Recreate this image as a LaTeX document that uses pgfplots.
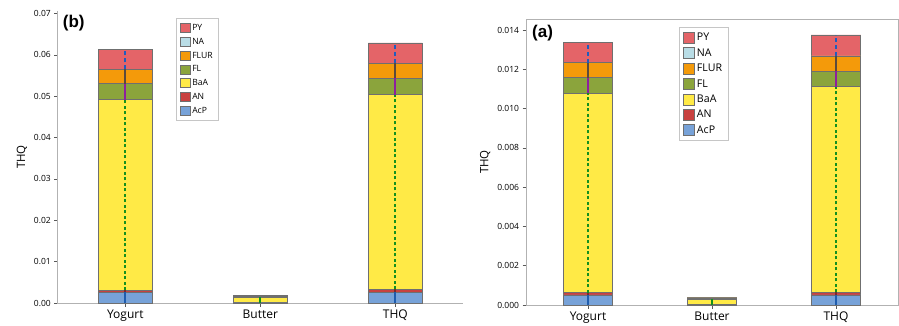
\documentclass[border=0pt]{standalone}
\usepackage{fontspec}
\setmainfont{Open Sans}
\newfontfamily\headfont{Liberation Sans}
\usepackage{pgfplots}
\pgfplotsset{compat=1.18}
\definecolor{cPY}{HTML}{E46468}
\definecolor{cNA}{HTML}{B9DDE6}
\definecolor{cFLUR}{HTML}{F49A0A}
\definecolor{cFL}{HTML}{8BA43C}
\definecolor{cBaA}{HTML}{FFEA46}
\definecolor{cAN}{HTML}{C8413F}
\definecolor{cAcP}{HTML}{77A2D8}
\definecolor{lAcP}{HTML}{1F5DAE}
\definecolor{lAN}{HTML}{7A2A2A}
\definecolor{lBaA}{HTML}{14901E}
\definecolor{lFL}{HTML}{8E1F9E}
\definecolor{lFLUR}{HTML}{5C4B3C}
\definecolor{lPY}{HTML}{1F5DBE}
\definecolor{bord}{HTML}{6F6F6F}
\pgfplotsset{
  thqbase/.style={
    scale only axis, xmin=-0.5, xmax=2.5, ymin=0,
    xtick={0,1,2}, xticklabels={Yogurt,Butter,THQ},
    tick align=outside, major tick length=3.5pt, tick pos=left,
    tick style={gray!70!black, line width=0.6pt},
    axis line style={gray!60, line width=0.8pt},
    scaled y ticks=false,
    /pgf/number format/assume math mode=true,
    yticklabel style={font=\fontsize{8.5}{10}\selectfont},
    xticklabel style={font=\fontsize{12}{14}\selectfont},
    ylabel style={font=\fontsize{11.5}{13}\selectfont},
    ylabel={THQ},
    ybar, bar width=0.4, bar shift=0pt,
  },
  segbar/.style={fill=#1, draw=bord, line width=0.7pt},
  seg/.style={sharp plot, forget plot, line width=1.8pt, #1},
}
\begin{document}
\begin{tikzpicture}
\useasboundingbox (0,0) rectangle (899pt,325pt);
% ---------------- left panel (b): bar tops = cumulative stack heights
\begin{axis}[thqbase, width=405pt, height=292pt, at={(57.8pt,22pt)}, anchor=south west,
  ymax=0.0706, ytick={0,0.01,0.02,0.03,0.04,0.05,0.06,0.07},
  yticklabel style={/pgf/number format/.cd, fixed, fixed zerofill, precision=2},
  axis line style={draw=none}, clip=false,
  legend image code/.code={\draw[#1] (0pt,-4.6pt) rectangle (9.5pt,4.6pt);},
  legend style={at={(0.291,0.976)}, anchor=north west, font=\fontsize{8.6}{9.5}\selectfont,
    draw=gray!45, line width=0.8pt, inner sep=4pt, row sep=2.1pt, cells={anchor=west}},
]
\draw[gray!60, line width=0.8pt] (rel axis cs:0,1) -- (rel axis cs:0,0) -- (rel axis cs:1,0);
\addplot[segbar=cPY]   coordinates {(0,0.0613) (1,0.00191) (2,0.0629)};
\addplot[segbar=cNA]   coordinates {(0,0.0565) (1,0.00176) (2,0.0580)};
\addplot[segbar=cFLUR] coordinates {(0,0.0565) (1,0.00176) (2,0.0580)};
\addplot[segbar=cFL]   coordinates {(0,0.0530) (1,0.00156) (2,0.0544)};
\addplot[segbar=cBaA]  coordinates {(0,0.0492) (1,0.00136) (2,0.0504)};
\addplot[segbar=cAN]   coordinates {(0,0.0031) (1,0.00004) (2,0.0033)};
\addplot[segbar=cAcP]  coordinates {(0,0.0026) (1,0.00003) (2,0.0026)};
\legend{PY,NA,FLUR,FL,BaA,AN,AcP}
\addplot[seg={lAcP}] coordinates {(0,0) (0,0.0026)};
\addplot[seg={lAN}] coordinates {(0,0.0026) (0,0.0031)};
\addplot[seg={lBaA, dash pattern=on 3pt off 2.5pt}] coordinates {(0,0.0031) (0,0.0492)};
\addplot[seg={lFL}] coordinates {(0,0.0492) (0,0.0530)};
\addplot[seg={lFLUR}] coordinates {(0,0.0530) (0,0.0565)};
\addplot[seg={lPY, dash pattern=on 4pt off 3pt}] coordinates {(0,0.0565) (0,0.0613)};
\addplot[seg={lBaA}] coordinates {(1,0.00005) (1,0.00136)};
\addplot[seg={lAcP}] coordinates {(2,0) (2,0.0026)};
\addplot[seg={lAN}] coordinates {(2,0.0026) (2,0.0033)};
\addplot[seg={lBaA, dash pattern=on 3pt off 2.5pt}] coordinates {(2,0.0033) (2,0.0504)};
\addplot[seg={lFL}] coordinates {(2,0.0504) (2,0.0544)};
\addplot[seg={lFLUR}] coordinates {(2,0.0544) (2,0.0580)};
\addplot[seg={lPY, dash pattern=on 4pt off 3pt}] coordinates {(2,0.0580) (2,0.0629)};
\node[anchor=north west, inner sep=0pt, font=\headfont\bfseries\fontsize{17}{18}\selectfont] at (rel axis cs:0.012,0.988) {(b)};
\end{axis}
% ---------------- right panel (a)
\begin{axis}[thqbase, width=372pt, height=286pt, at={(526pt,20pt)}, anchor=south west,
  ymax=0.01456, ytick={0,0.002,0.004,0.006,0.008,0.010,0.012,0.014},
  yticklabel style={/pgf/number format/.cd, fixed, fixed zerofill, precision=3},
  legend image code/.code={\draw[#1] (0pt,-5.5pt) rectangle (11pt,5.5pt);},
  legend style={at={(0.411,0.972)}, anchor=north west, font=\fontsize{10.6}{11.5}\selectfont,
    draw=gray!45, line width=0.8pt, inner sep=4pt, row sep=2.3pt, cells={anchor=west}},
]
\addplot[segbar=cPY]   coordinates {(0,0.01335) (1,0.00039) (2,0.01375)};
\addplot[segbar=cNA]   coordinates {(0,0.01234) (1,0.00036) (2,0.01268)};
\addplot[segbar=cFLUR] coordinates {(0,0.01234) (1,0.00036) (2,0.01268)};
\addplot[segbar=cFL]   coordinates {(0,0.01157) (1,0.00033) (2,0.0119)};
\addplot[segbar=cBaA]  coordinates {(0,0.01079) (1,0.0003) (2,0.01111)};
\addplot[segbar=cAN]   coordinates {(0,0.00063) (1,0.00002) (2,0.00064)};
\addplot[segbar=cAcP]  coordinates {(0,0.00051) (1,0.00001) (2,0.00051)};
\legend{PY,NA,FLUR,FL,BaA,AN,AcP}
\addplot[seg={lAcP}] coordinates {(0,0) (0,0.00051)};
\addplot[seg={lAN}] coordinates {(0,0.00051) (0,0.00063)};
\addplot[seg={lBaA, dash pattern=on 3pt off 2.5pt}] coordinates {(0,0.00063) (0,0.01079)};
\addplot[seg={lFL}] coordinates {(0,0.01079) (0,0.01157)};
\addplot[seg={lFLUR}] coordinates {(0,0.01157) (0,0.01234)};
\addplot[seg={lPY, dash pattern=on 4pt off 3pt}] coordinates {(0,0.01234) (0,0.01335)};
\addplot[seg={lBaA}] coordinates {(1,0.00002) (1,0.0003)};
\addplot[seg={lAcP}] coordinates {(2,0) (2,0.00051)};
\addplot[seg={lAN}] coordinates {(2,0.00051) (2,0.00064)};
\addplot[seg={lBaA, dash pattern=on 3pt off 2.5pt}] coordinates {(2,0.00064) (2,0.01111)};
\addplot[seg={lFL}] coordinates {(2,0.01111) (2,0.0119)};
\addplot[seg={lFLUR}] coordinates {(2,0.0119) (2,0.01268)};
\addplot[seg={lPY, dash pattern=on 4pt off 3pt}] coordinates {(2,0.01268) (2,0.01375)};
\node[anchor=north west, inner sep=0pt, font=\headfont\bfseries\fontsize{17}{18}\selectfont] at (rel axis cs:0.016,0.979) {(a)};
\end{axis}
\end{tikzpicture}
\end{document}
